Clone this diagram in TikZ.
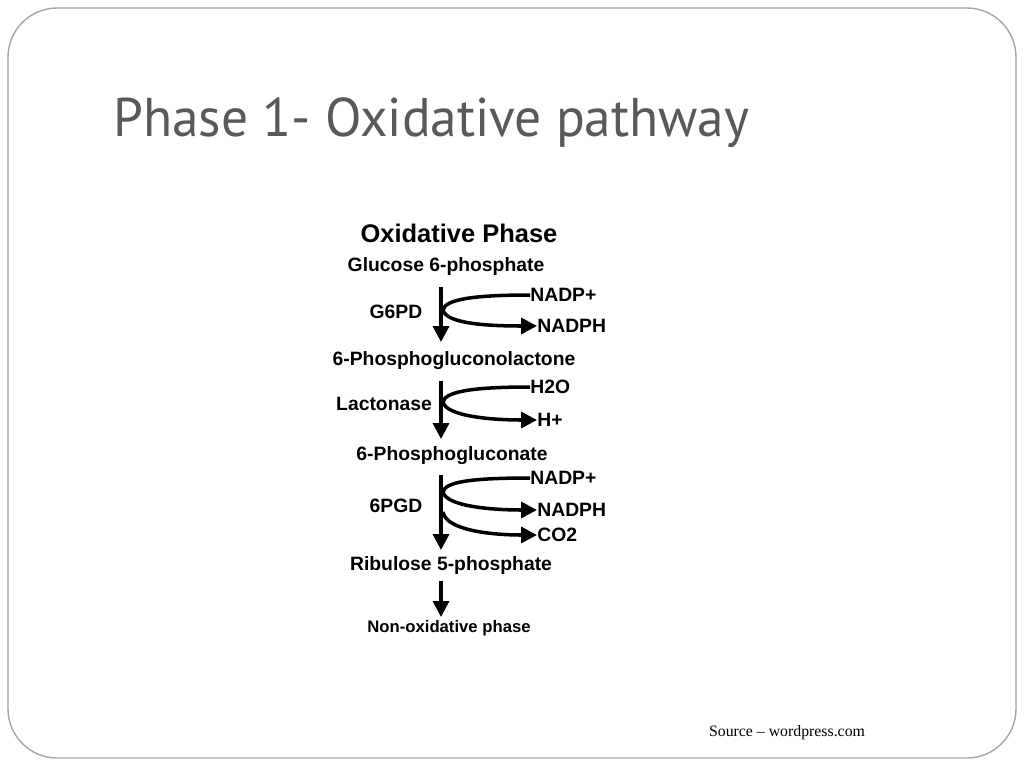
\documentclass[tikz,border=0pt]{standalone}
\usepackage{fontspec}
\setmainfont{Liberation Sans}
\newfontfamily\titlefont{PT Sans}
\newfontfamily\srcfont{Liberation Serif}
\usetikzlibrary{arrows.meta}
\begin{document}
\begin{tikzpicture}[x=0.02cm,y=-0.02cm,
  lbl/.style={font=\bfseries\fontsize{11}{13}\selectfont, inner sep=0pt},
  arr/.style={line width=2pt,-{Triangle[length=9pt,width=9pt]}},
  side/.style={line width=2pt}]
\useasboundingbox (0,0) rectangle (1024,768);
\draw[gray!70, line width=0.8pt, rounded corners=28] (8,8) rectangle (1016,758);
\node[anchor=base west, inner sep=0pt, text=black!65, font=\titlefont\fontsize{31}{36}\selectfont, xscale=0.98] (title) at (113,136) {Phase 1- Oxidative pathway};
\node[lbl, font=\bfseries\fontsize{14.5}{16}\selectfont] (hd) at (459,233) {Oxidative Phase};
\node[lbl] (g6p) at (446,266) {Glucose 6-phosphate};
\node[lbl] (e1) at (396,312) {G6PD};
\node[lbl, anchor=west] (n1) at (530,295) {NADP+};
\node[lbl, anchor=west] (n2) at (537,326) {NADPH};
\node[lbl] (pgl) at (454,361) {6-Phosphogluconolactone};
\node[lbl] (e2) at (384,404) {Lactonase};
\node[lbl, anchor=west] (h2o) at (530,387) {H2O};
\node[lbl, anchor=west] (hp) at (537,420) {H+};
\node[lbl] (pg) at (452,456) {6-Phosphogluconate};
\node[lbl] (e3) at (396,506) {6PGD};
\node[lbl, anchor=west] (n3) at (530,478) {NADP+};
\node[lbl, anchor=west] (n4) at (537,510) {NADPH};
\node[lbl, anchor=west] (co2) at (537,535) {CO2};
\node[lbl] (r5p) at (451,565) {Ribulose 5-phosphate};
\node[lbl, font=\bfseries\fontsize{9.5}{11}\selectfont] (nox) at (449,628) {Non-oxidative phase};
\node[anchor=base, inner sep=0pt, font=\srcfont\fontsize{9}{11}\selectfont] (src) at (787,736) {Source – wordpress.com};
% main arrows
\coordinate (a1s) at (441,287); \coordinate (a1e) at (441,342);
\coordinate (a2s) at (441,381); \coordinate (a2e) at (441,439);
\coordinate (a3s) at (441,475); \coordinate (a3e) at (441,550);
\coordinate (a4s) at (441,581); \coordinate (a4e) at (441,617);
\draw[arr] (a1s) -- (a1e);
\draw[arr] (a2s) -- (a2e);
\draw[arr] (a3s) -- (a3e);
\draw[arr] (a4s) -- (a4e);
% side reactions
\draw[side] (n1.west) .. controls (470,295) and (445,300) .. (443,310);
\draw[arr] (443,310) .. controls (446,324) and (490,326) .. (n2.west);
\draw[side] (h2o.west) .. controls (470,387) and (445,392) .. (443,402);
\draw[arr] (443,402) .. controls (446,416) and (490,420) .. (hp.west);
\draw[side] (n3.west) .. controls (470,478) and (445,482) .. (443,492);
\draw[arr] (443,492) .. controls (446,506) and (490,510) .. (n4.west);
\draw[arr] (443,512) .. controls (446,530) and (490,535) .. (co2.west);
\end{tikzpicture}
\end{document}
